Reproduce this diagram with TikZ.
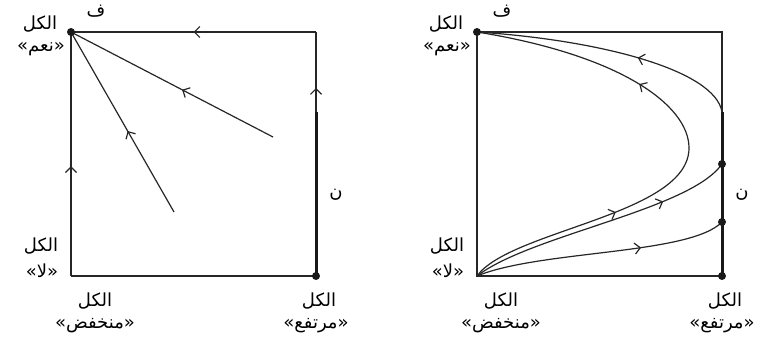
\documentclass[tikz,border=0pt]{standalone}
\usepackage{fontspec}
\newfontfamily\arabicfont[Script=Arabic]{DejaVu Sans}
\TeXXeTstate=1
\usetikzlibrary{arrows.meta, decorations.markings}
\newcommand{\artxt}[1]{\arabicfont\beginR #1\endR}

\begin{document}
\begin{tikzpicture}[x=1pt, y=-1pt,
      rim/.style={draw=black!85, line width=1.2pt},
      heavy/.style={draw=black!90, line width=3pt},
      dot/.style={circle, fill=black!90, inner sep=0pt, minimum size=8pt},
      lbl/.style={font=\fontsize{18}{20}\selectfont, inner sep=0pt},
      flow/.style={postaction={decorate}, decoration={markings,
        mark=at position #1 with {\arrow{Straight Barb[length=5.5pt, width=11pt]}}}}]
    \useasboundingbox (0,0) rectangle (758,356);
    % corners of both squares
    \foreach \p/\sx in {l/0, r/406} {
      \coordinate (tl\p) at (71+\sx,32);
      \coordinate (tr\p) at (316+\sx,32);
      \coordinate (bl\p) at (71+\sx,276);
      \coordinate (br\p) at (316+\sx,276);
      \coordinate (m\p) at (316+\sx,112);
    }
    \coordinate (ea) at (273,137);
    \coordinate (eb) at (174,212);
    \coordinate (tip) at (689,148);
    \coordinate (pa) at (722,164);
    \coordinate (pb) at (722,222);

    % left square
    \draw[rim, flow=0.5] (trl) -- (tll);
    \draw[rim, flow=0.45] (bll) -- (tll);
    \draw[rim] (bll) -- (brl);
    \draw[rim, flow=0.3] (ml) -- (trl);
    \draw[heavy] (brl) -- (ml);
    \draw[rim, flow=0.45] (ea) -- (tll);
    \draw[rim, flow=0.45] (eb) -- (tll);

    % right square
    \draw[rim] (mr) -- (trr) -- (tlr) -- (blr) -- (brr);
    \draw[heavy] (brr) -- (mr);
    \draw[rim, flow=0.39] (mr) .. controls (715,70) and (600,40) .. (tlr);
    \draw[rim, flow=0.6] (blr) .. controls (510,230) and (689,215) .. (tip);
    \draw[rim, flow=0.33] (tip) .. controls (689,105) and (620,55) .. (tlr);
    \draw[rim, flow=0.74] (blr) .. controls (530,235) and (690,210) .. (pa);
    \draw[rim, flow=0.66] (blr) .. controls (540,250) and (690,255) .. (pb);

    \node[dot] (dl1) at (tll) {};
    \node[dot] (dl2) at (brl) {};
    \node[dot] (dr1) at (tlr) {};
    \node[dot] (dr2) at (pa) {};
    \node[dot] (dr3) at (pb) {};
    \node[dot] (dr4) at (brr) {};

    % labels
    \foreach \p in {l,r} {
      \node[lbl] (f\p) at ([shift={(25,-21)}]tl\p) {\artxt{ف}};
      \node[lbl] (yes\p) at ([shift={(-31,-8)}]tl\p) {\artxt{الكل}};
      \node[lbl] (yesq\p) at ([shift={(-30,17)}]tl\p) {\artxt{«نعم»}};
      \node[lbl] (no\p) at ([shift={(-30,-30)}]bl\p) {\artxt{الكل}};
      \node[lbl] (noq\p) at ([shift={(-29,-5)}]bl\p) {\artxt{«لا»}};
      \node[lbl] (low\p) at ([shift={(24,25)}]bl\p) {\artxt{الكل}};
      \node[lbl] (lowq\p) at ([shift={(24,50)}]bl\p) {\artxt{«منخفض»}};
      \node[lbl] (high\p) at ([shift={(3,25)}]br\p) {\artxt{الكل}};
      \node[lbl] (highq\p) at ([shift={(0,50)}]br\p) {\artxt{«مرتفع»}};
      \node[lbl] (n\p) at ([shift={(20,-81)}]br\p) {\artxt{ن}};
    }
  \end{tikzpicture}
\end{document}
